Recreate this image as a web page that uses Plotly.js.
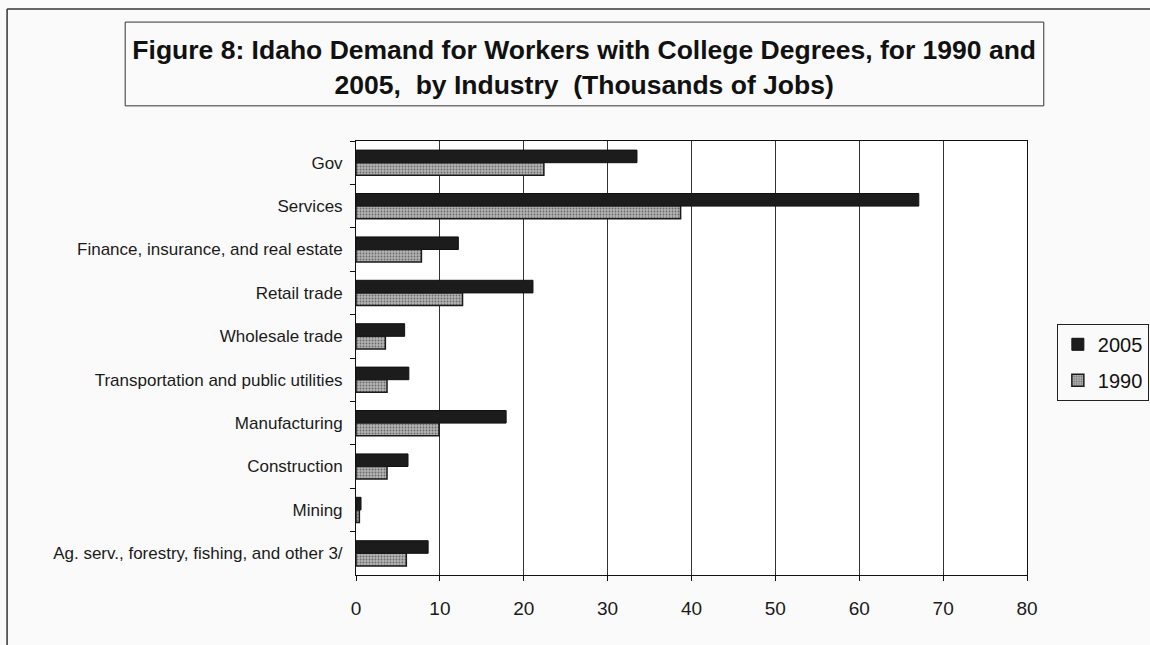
<!DOCTYPE html>
<html>
<head>
<meta charset="utf-8">
<script src="https://cdn.plot.ly/plotly-3.0.1.min.js"></script>
<style>html,body{margin:0;padding:0;background:#fafafa;}#chart{width:1150px;height:645px;}</style>
</head>
<body>
<div id="chart"></div>
<script>
const industries = [
  "Gov",
  "Services",
  "Finance, insurance, and real estate",
  "Retail trade",
  "Wholesale trade",
  "Transportation and public utilities",
  "Manufacturing",
  "Construction",
  "Mining",
  "Ag. serv., forestry, fishing, and other 3/"
];
const jobs2005 = [33.5, 67.1, 12.2, 21.1, 5.8, 6.3, 17.9, 6.2, 0.6, 8.6];
const jobs1990 = [22.4, 38.7, 7.8, 12.7, 3.5, 3.7, 9.9, 3.7, 0.4, 6.0];
const xTicks = [0, 10, 20, 30, 40, 50, 60, 70, 80];

const traces = [
  {
    type: "bar", orientation: "h", name: "2005", legendgroup: "a",
    y: industries, x: jobs2005,
    marker: {color: "#1c1c1c", line: {color: "#111", width: 1}}
  },
  {
    type: "bar", orientation: "h", name: "1990", legendgroup: "b",
    y: industries, x: jobs1990,
    marker: {
      color: "#a9a9a9",
      line: {color: "#1a1a1a", width: 1.5},
      pattern: {shape: ".", fgcolor: "#6a6a6a", bgcolor: "#b4b4b4", size: 3, solidity: 0.3}
    }
  }
];

const layout = {
  width: 1150, height: 645,
  paper_bgcolor: "#fafafa",
  plot_bgcolor: "#ffffff",
  margin: {l: 356, r: 123, t: 141, b: 70},
  barmode: "group",
  bargap: 0.42,
  bargroupgap: 0,
  font: {family: "Arial, Liberation Sans, sans-serif", color: "#1a1a1a"},
  title: {
    text: "Figure 8: Idaho Demand for Workers with College Degrees, for 1990 and<br>2005,  by Industry  (Thousands of Jobs)",
    font: {size: 26.5, family: "Arial, Liberation Sans, sans-serif", weight: "bold", color: "#111"},
    x: 0.508, xanchor: "center", xref: "container",
    y: 0.908, yanchor: "middle", yref: "container"
  },
  xaxis: {
    range: [0, 80],
    tickvals: xTicks,
    ticktext: xTicks.map(String),
    showgrid: true, gridcolor: "#333", gridwidth: 1,
    zeroline: false,
    showline: true, linecolor: "#111", linewidth: 1, mirror: true,
    ticks: "outside", ticklen: 5, tickcolor: "#111",
    ticklabelstandoff: 11,
    tickfont: {size: 19, color: "#1a1a1a"}
  },
  yaxis: {
    type: "category",
    autorange: "reversed",
    showgrid: false,
    showline: true, linecolor: "#111", linewidth: 1, mirror: true,
    ticks: "outside", ticklen: 5, tickcolor: "#111",
    tickson: "boundaries",
    ticklabelstandoff: 9,
    tickfont: {size: 17, color: "#1a1a1a"}
  },
  legend: {
    xref: "container", yref: "container",
    x: 0.919, xanchor: "left", y: 0.498, yanchor: "top",
    bgcolor: "#fafafa", bordercolor: "#222", borderwidth: 1,
    font: {size: 20, color: "#111"},
    traceorder: "grouped", tracegroupgap: 7
  },
  shapes: [
    {type: "rect", xref: "paper", yref: "paper", x0: -0.344, x1: 1.025, y0: 1.081, y1: 1.274,
     line: {color: "#333", width: 1}, fillcolor: "rgba(0,0,0,0)"},
    {type: "line", xref: "paper", yref: "paper", x0: -0.520, x1: -0.520, y0: -0.2, y1: 1.304,
     line: {color: "#333", width: 1.5}},
    {type: "line", xref: "paper", yref: "paper", x0: -0.520, x1: 1.2, y0: 1.304, y1: 1.304,
     line: {color: "#333", width: 1.5}}
  ]
};

Plotly.newPlot("chart", traces, layout, {displayModeBar: false, staticPlot: true});
</script>
</body>
</html>
